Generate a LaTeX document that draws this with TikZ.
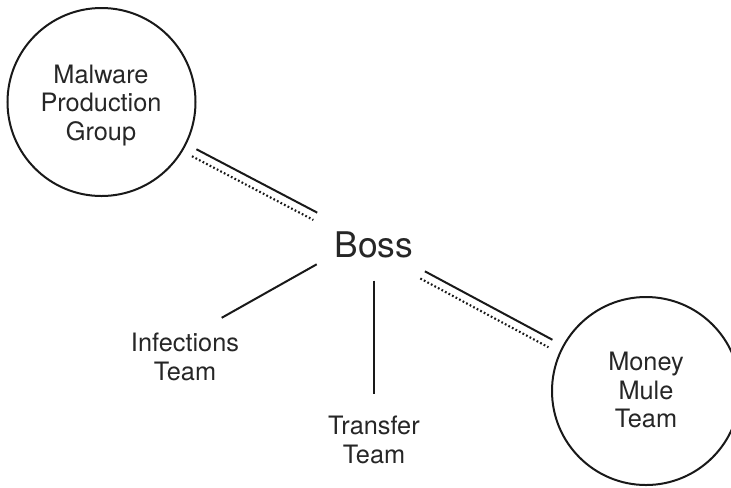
\documentclass[tikz,border=0pt]{standalone}
\usepackage{fontspec}
\setmainfont{TeX Gyre Heros}
\tikzset{every path/.style={line width=1.5pt,black!90}, every node/.style={inner sep=0pt, align=center, text=black!85, font=\fontsize{19}{21.5}\selectfont}}
\tikzset{group/.style={circle,draw,line width=1.5pt,minimum size=141pt}, tie/.style={line width=1.5pt}, tiedot/.style={line width=1.6pt,dash pattern=on 1.3pt off 1.7pt}}

\begin{document}
\begin{tikzpicture}[x=0.75pt,y=-0.75pt]
   \useasboundingbox (0,0) rectangle (731,487);
   \node[group] (mpg)  at (101.5,102) {};
   \node (mpgtext) at (101,105.5) {Malware\\Production\\Group};
   \node[group] (mule) at (646,391)   {};
   \node (muletext) at (646,390) {Money\\Mule\\Team};
   \node[font=\fontsize{26.5}{30}\selectfont] (boss) at (374,245) {Boss};
   \node (infect)   at (185,357) {Infections\\Team};
   \node (transfer) at (374,440)   {Transfer\\Team};
   % double ties: solid above, dotted below
   \draw[tie,shorten <=79.5pt,shorten >=49pt,transform canvas={shift={(1.1,-2)}}] (mpg.center) -- (boss.center);
   \draw[tiedot,shorten <=79pt,shorten >=49pt,transform canvas={shift={(-2.8,5.3)}}] (mpg.center) -- (boss.center);
   \draw[tie,shorten <=43pt,shorten >=80pt,transform canvas={shift={(0.4,-0.8)}}] (boss.center) -- (mule.center);
   \draw[tiedot,shorten <=42.5pt,shorten >=80pt,transform canvas={shift={(-3.6,6.7)}}] (boss.center) -- (mule.center);
   % plain ties
   \draw[tie] ([shift={(-57.3,19.3)}]boss.center) -- ([shift={(36.7,-39.2)}]infect.center);
   \draw[tie] ([shift={(0,35.7)}]boss.center) -- ([shift={(0,-46)}]transfer.center);
\end{tikzpicture}
\end{document}
